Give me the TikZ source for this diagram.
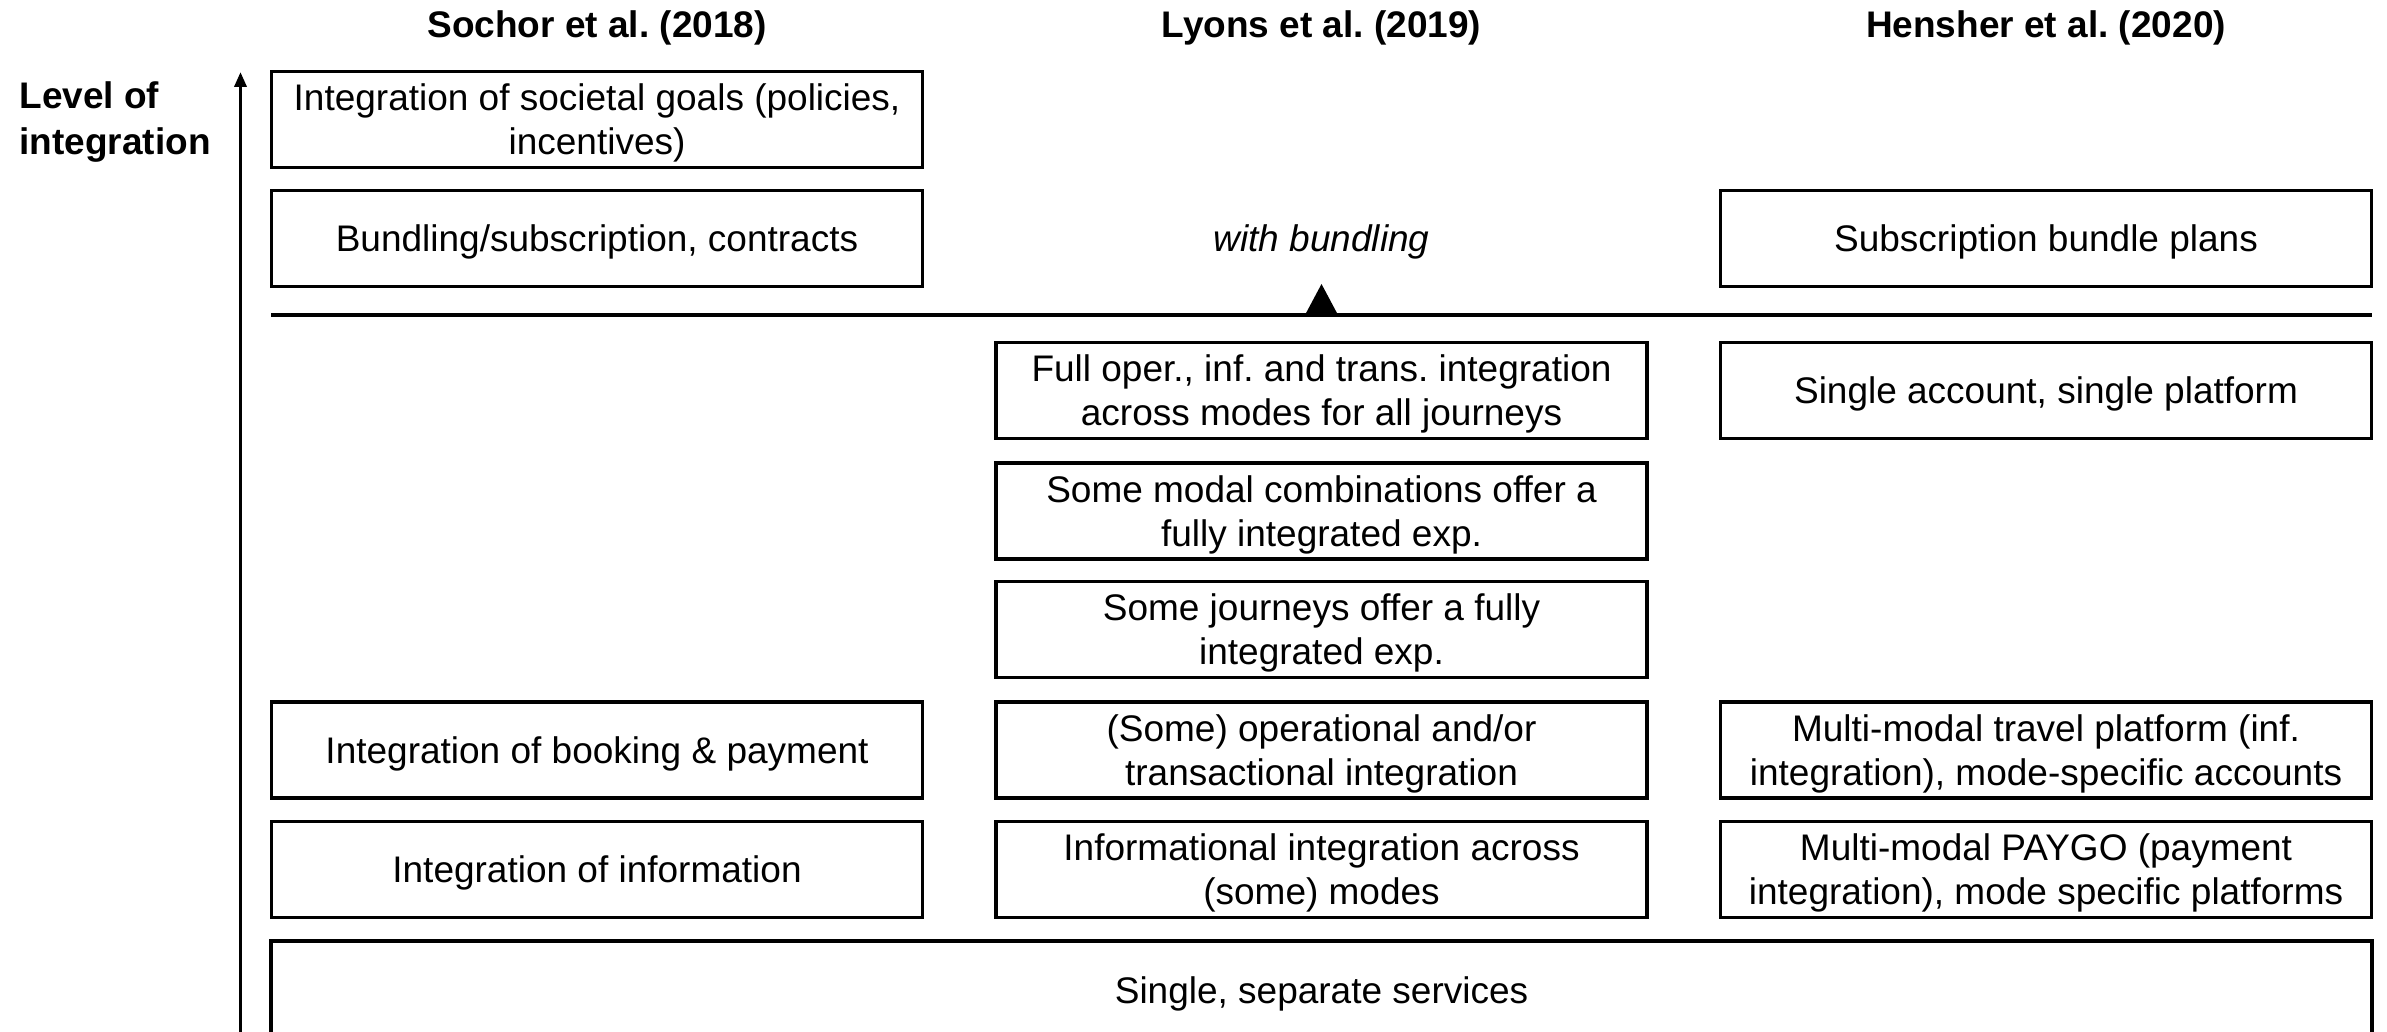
\documentclass[tikz,border=0pt]{standalone}
\usepackage{fontspec}
\setmainfont{Liberation Sans}
\usetikzlibrary{arrows.meta}
\frenchspacing
\newcommand\Ts{\rule{0pt}{35pt}}
\newcommand\Bs{\rule[-8.5pt]{0pt}{0pt}}
\begin{document}
\begin{tikzpicture}[x=1pt,y=-1pt,
  box/.style={draw, line width=3.5pt, minimum width=651pt, minimum height=96pt, inner sep=0pt,
     align=center, font=\fontsize{37}{44}\selectfont},
  title/.style={font=\fontsize{37}{46}\selectfont\bfseries},
  plain/.style={font=\fontsize{37}{44}\selectfont, align=center}]
\useasboundingbox (0,0) rectangle (2387,1032);
\clip (0,0) rectangle (2387,1032);
% titles
\node[title] (t1) at (597,28) {Sochor et al. (2018)};
\node[title] (t2) at (1321.5,28) {Lyons et al. (2019)};
\node[title] (t3) at (2046,28) {Hensher et al. (2020)};
\node[title, align=left, anchor=west] (lvl) at (16,122) {Level of\\integration};
% axis
\coordinate (axb) at (240.5,1040);
\coordinate (axt) at (240.5,72);
\draw[line width=3.5pt, -{Triangle[length=15pt,width=12pt]}] (axb) -- (axt);
% column 1
\node[box] (s1) at (597,119.5) {\Ts Integration of societal goals (policies,\\incentives)\Bs};
\node[box] (s2) at (597,238.3) {\Ts Bundling/subscription, contracts\Bs};
\node[box] (s6) at (597,749.8) {\Ts Integration of booking \& payment\Bs};
\node[box] (s7) at (597,869.3) {\Ts Integration of information\Bs};
% column 2
\node[plain, font=\fontsize{37}{44}\selectfont\itshape] (l2) at (1321.5,238.3) {\Ts with bundling\Bs};
\node[box] (l3) at (1321.5,390.5) {\Ts Full oper., inf. and trans. integration\\across modes for all journeys\Bs};
\node[box] (l4) at (1321.5,510.8) {\Ts Some modal combinations offer a\\fully integrated exp.\Bs};
\node[box] (l5) at (1321.5,629.6) {\Ts Some journeys offer a fully\\integrated exp.\Bs};
\node[box] (l6) at (1321.5,749.8) {\Ts (Some) operational and/or\\transactional integration\Bs};
\node[box] (l7) at (1321.5,869.3) {\Ts Informational integration across\\(some) modes\Bs};
% column 3
\node[box] (h2) at (2046,238.3) {\Ts Subscription bundle plans\Bs};
\node[box] (h3) at (2046,390.5) {\Ts Single account, single platform\Bs};
\node[box] (h6) at (2046,749.8) {\Ts Multi-modal travel platform (inf.\\integration), mode-specific accounts\Bs};
\node[box] (h7) at (2046,869.3) {\Ts Multi-modal PAYGO (payment\\integration), mode specific platforms\Bs};
% bottom
\node[box, minimum width=2101pt, minimum height=98pt, anchor=north] (base) at (1321.5,939.3) {\Ts Single, separate services\Bs};
% separator line with triangle
\coordinate (ll) at (271,315);
\coordinate (lr) at (2372,315);
\draw[line width=4pt] (ll) -- (lr);
\fill (1305,315) -- (1338,315) -- (1321.5,284) -- cycle;
\end{tikzpicture}
\end{document}
